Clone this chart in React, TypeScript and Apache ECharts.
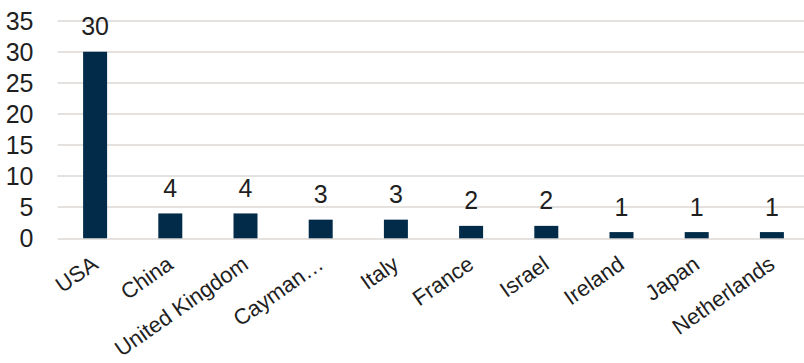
import React, { useEffect, useRef } from "react";
import * as echarts from "echarts";

// Number of companies by country
const countries = [
  "USA",
  "China",
  "United Kingdom",
  "Cayman…",
  "Italy",
  "France",
  "Israel",
  "Ireland",
  "Japan",
  "Netherlands",
];
const counts = [30, 4, 4, 3, 3, 2, 2, 1, 1, 1];

const yMin = 0;
const yMax = 35;
const yStep = 5;

const FONT = "'Liberation Sans Narrow', 'Arial Narrow', 'Liberation Sans', Arial, sans-serif";
const TEXT = "#1f1f1f";
const BAR = "#022b4a";
const GRID_LINE = "#dcd7d3";

export default function App() {
  const ref = useRef<HTMLDivElement>(null);

  useEffect(() => {
    if (!ref.current) return;
    const chart = echarts.init(ref.current, null, { renderer: "svg" });
    chart.setOption({
      animation: false,
      grid: {
        left: 57.5,
        top: 20.7,
        width: 752,
        height: 217.6,
        containLabel: false,
        outerBoundsMode: "none",
      },
      xAxis: {
        type: "category",
        data: countries,
        axisLine: { show: false },
        axisTick: { show: false },
        axisLabel: {
          interval: 0,
          rotate: 35,
          margin: 23,
          color: TEXT,
          fontFamily: FONT,
          fontSize: 22,
        },
      },
      yAxis: {
        type: "value",
        min: yMin,
        max: yMax,
        interval: yStep,
        axisLine: { show: false },
        axisTick: { show: false },
        axisLabel: {
          margin: 24,
          color: TEXT,
          fontFamily: FONT,
          fontSize: 25,
        },
        splitLine: { show: true, lineStyle: { color: GRID_LINE, width: 1.5 } },
      },
      series: [
        {
          type: "bar",
          data: counts,
          barWidth: 24,
          itemStyle: { color: BAR },
          label: {
            show: true,
            position: "top",
            distance: 13,
            color: TEXT,
            fontFamily: FONT,
            fontSize: 25,
          },
        },
      ],
    });
    return () => chart.dispose();
  }, []);

  return (
    <div
      ref={ref}
      style={{ position: "absolute", left: 0, top: 0, width: 804, height: 363, background: "#fff" }}
    />
  );
}
